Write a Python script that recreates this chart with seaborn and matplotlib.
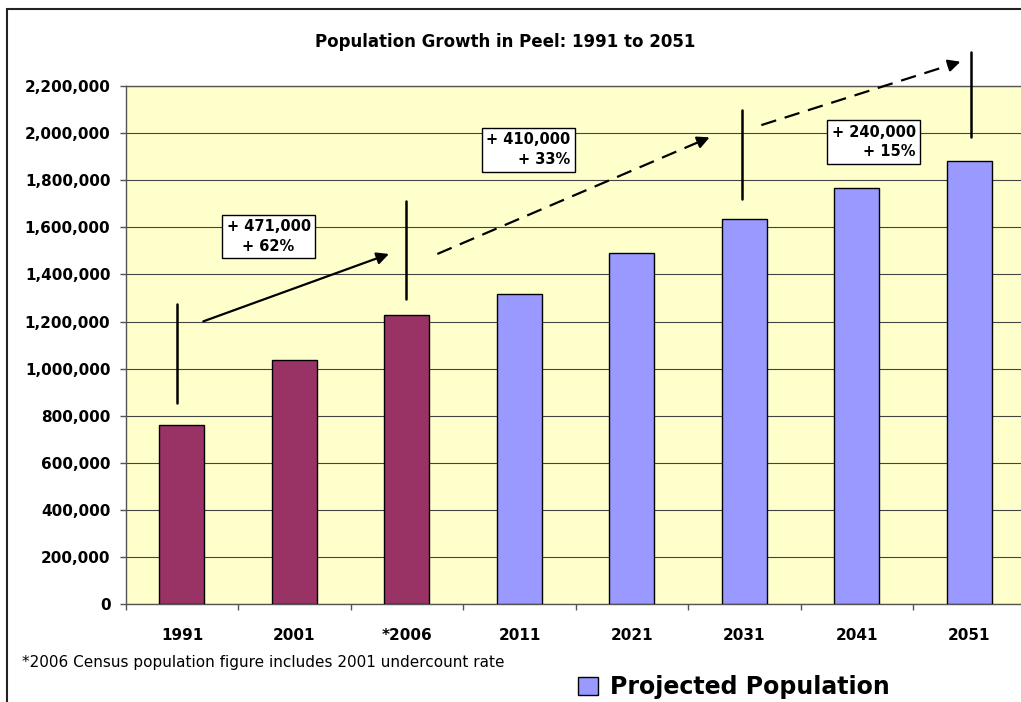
import pandas as pd
import matplotlib.pyplot as plt
import seaborn as sns
from matplotlib.patches import Patch, Rectangle
from matplotlib.ticker import StrMethodFormatter, FixedLocator

# values
years = ['1991', '2001', '*2006', '2011', '2021', '2031', '2041', '2051']
population = [761000, 1036000, 1229000, 1318000, 1490000, 1637000, 1768000, 1883000]
series = ['Census', 'Census', 'Census', 'Projected', 'Projected', 'Projected', 'Projected', 'Projected']
growth_labels = ['+ 471,000\n+ 62%', '+ 410,000\n+ 33%', '+ 240,000\n+ 15%']

df = pd.DataFrame({'Year': years, 'Population': population, 'Type': series})

sns.set_style('white')
plt.rcParams['font.family'] = ['DejaVu Sans']
plt.rcParams['text.color'] = 'black'
plt.rcParams['xtick.color'] = 'black'
plt.rcParams['ytick.color'] = 'black'

fig = plt.figure(figsize=(10.21, 7.02), dpi=100)
ax = fig.add_axes([125.7 / 1021, (702 - 604.3) / 702, 900 / 1021, (604.3 - 86) / 702])
ax.set_facecolor('#FFFFCC')

sns.barplot(data=df, x='Year', y='Population', hue='Type', dodge=False, width=0.4,
            palette={'Census': '#993366', 'Projected': '#9999FF'}, saturation=1,
            edgecolor='black', linewidth=1, legend=False, ax=ax, zorder=3)

ax.set_xlim(-0.5, 7.5)
ax.set_ylim(0, 2200000)
ax.set_yticks(range(0, 2200001, 200000))
ax.yaxis.set_major_formatter(StrMethodFormatter('{x:,.0f}'))
ax.yaxis.grid(True, color='#444444', linewidth=0.8, zorder=0)
ax.set_axisbelow(True)
ax.set_xlabel('')
ax.set_ylabel('')

for side in ['left', 'bottom', 'top']:
    ax.spines[side].set_color('#555555')
    ax.spines[side].set_linewidth(1)
ax.spines['right'].set_visible(False)

ax.tick_params(axis='y', direction='out', length=4, width=1, color='#555555', pad=7,
               labelsize=11, left=True, labelcolor='black')
ax.tick_params(axis='x', which='major', length=0, pad=17, labelsize=11, labelcolor='black')
ax.xaxis.set_minor_locator(FixedLocator([i - 0.5 for i in range(len(years) + 1)]))
ax.tick_params(axis='x', which='minor', direction='out', length=4, width=1, color='#555555',
               bottom=True)
for lbl in ax.get_xticklabels() + ax.get_yticklabels():
    lbl.set_fontweight('bold')

# growth markers: vertical bars, arrows and text boxes
vlines = [(-0.04, 855000, 1275000), (1.99, 1295000, 1713000),
          (4.98, 1719000, 2098000), (7.01, 1982000, 2345000)]
for x, y0, y1 in vlines:
    ax.plot([x, x], [y0, y1], color='black', lw=1.8, clip_on=False, zorder=5)

arrows = [((0.19, 1201000), (1.84, 1487000), '-'),
          ((2.27, 1487000), (4.69, 1982000), '--'),
          ((5.15, 2034000), (6.92, 2303000), '--')]
for (x0, y0), (x1, y1), style in arrows:
    bx, by = x1 - 0.04 * (x1 - x0), y1 - 0.04 * (y1 - y0)
    ls = '-' if style == '-' else (0, (7, 4))
    ax.plot([x0, bx], [y0, by], color='black', lw=1.6, linestyle=ls, clip_on=False, zorder=5)
    ax.annotate('', xy=(x1, y1), xytext=(bx, by), annotation_clip=False,
                arrowprops=dict(arrowstyle='-|>', color='black', lw=1.6,
                                mutation_scale=18, shrinkA=0, shrinkB=0), zorder=5)

boxes = [(0.77, 1562000, 'center'), (3.08, 1929000, 'right'), (6.15, 1962000, 'right')]
for (x, y, align), label in zip(boxes, growth_labels):
    ax.text(x, y, label, ha='center', va='center', multialignment=align,
            fontsize=10.5, fontweight='bold', linespacing=1.4, zorder=6,
            bbox=dict(boxstyle='square,pad=0.3', fc='white', ec='black', lw=1))

fig.text(505 / 1021, (702 - 42) / 702, 'Population Growth in Peel: 1991 to 2051',
         ha='center', va='center', fontsize=12, fontweight='bold')
fig.text(22 / 1021, (702 - 663) / 702,
         '*2006 Census population figure includes 2001 undercount rate',
         ha='left', va='center', fontsize=11)

leg = fig.legend(handles=[Patch(facecolor='#9999FF', edgecolor='black', lw=1,
                                label='Projected Population')],
                 loc='center left', bbox_to_anchor=(566 / 1021, (702 - 687) / 702),
                 frameon=False, borderpad=0, handlelength=0.85, handleheight=0.78,
                 handletextpad=0.5, prop={'size': 17, 'weight': 'bold'})

# outer frame of the original chart object
fig.patches.append(Rectangle((7 / 1021, -0.1), 1.2, (702 - 9) / 702 + 0.1,
                             transform=fig.transFigure, fill=False,
                             edgecolor='#222222', lw=1.5))

fig.savefig('out.png', dpi=100)
